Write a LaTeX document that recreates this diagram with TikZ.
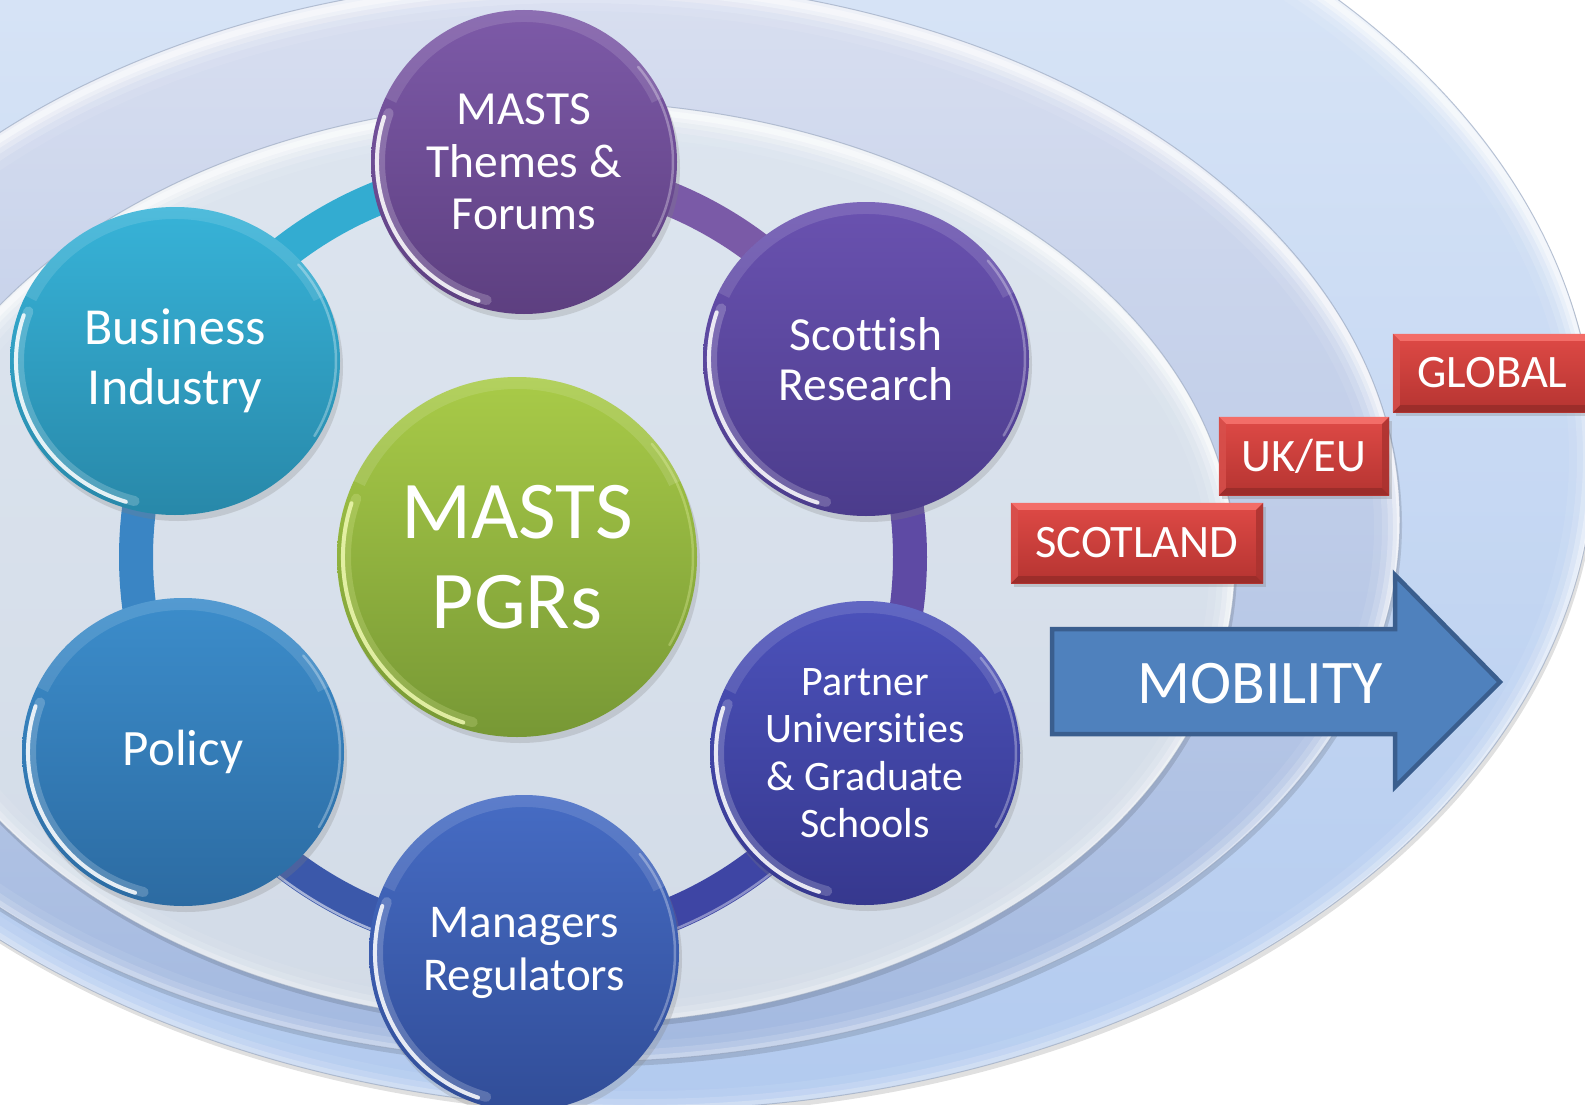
\documentclass[tikz,border=0pt]{standalone}
\usepackage{fontspec}
\setmainfont{Carlito}[Ligatures={NoCommon,NoContextual}]
\usetikzlibrary{shapes.geometric,shadows,calc}

\definecolor{eThreeTop}{HTML}{DDE8F7}
\definecolor{eThreeBot}{HTML}{B2CAEF}
\definecolor{eTwoTop}{HTML}{D9DFF0}
\definecolor{eTwoBot}{HTML}{A3B9E0}
\definecolor{eOneTop}{HTML}{DDE5EF}
\definecolor{eOneBot}{HTML}{D2DBE7}
\definecolor{edgegrey}{HTML}{8A9AB5}

\definecolor{ringA}{HTML}{33ACD1}
\definecolor{ringB}{HTML}{7A5AA7}
\definecolor{ringC}{HTML}{5E4AA4}
\definecolor{ringD}{HTML}{3E45A4}
\definecolor{ringE}{HTML}{3B58AA}
\definecolor{ringF}{HTML}{3A85C4}

\definecolor{themesT}{HTML}{7D5AA8}\definecolor{themesB}{HTML}{5D3F80}
\definecolor{scotT}{HTML}{6A52B0}\definecolor{scotB}{HTML}{4B3C8C}
\definecolor{partT}{HTML}{4C52BB}\definecolor{partB}{HTML}{36388E}
\definecolor{manT}{HTML}{466CC4}\definecolor{manB}{HTML}{314D98}
\definecolor{polT}{HTML}{3C8DCB}\definecolor{polB}{HTML}{2C6BA2}
\definecolor{busT}{HTML}{37B3D8}\definecolor{busB}{HTML}{2888A9}
\definecolor{grnT}{HTML}{A9CB48}\definecolor{grnB}{HTML}{779835}
\definecolor{grnRim}{HTML}{EEF8B0}

\definecolor{redT}{HTML}{DF4A46}\definecolor{redB}{HTML}{B53431}
\definecolor{redBevT}{HTML}{F36D68}\definecolor{redBevB}{HTML}{9C2D2A}
\definecolor{redBevL}{HTML}{D8504C}\definecolor{redBevR}{HTML}{A9322F}

\definecolor{arrowFill}{HTML}{4F81BD}
\definecolor{arrowEdge}{HTML}{3A5E8E}

% background oval layer: cx, cy, rx, ry, top colour, bottom colour
\newcommand{\bglayer}[6]{%
  \fill[black,opacity=.12] (#1+2,#2+5) ellipse [x radius=#3, y radius=#4];
  \begin{scope}
    \clip (#1,#2) ellipse [x radius=#3, y radius=#4];
    \shade[top color=#5, bottom color=#6] (#1-#3,#2-#4) rectangle (#1+#3,#2+#4);
    \foreach \w/\o in {3/.5,7/.35,12/.24,18/.15,26/.08}{
      \draw[white,opacity=\o,line width=2*\w] (#1,#2+7) ellipse [x radius=#3, y radius=#4];
    }
  \end{scope}
  \draw[edgegrey,opacity=.55,line width=1] (#1,#2) ellipse [x radius=#3, y radius=#4];
}

% rim highlights of a bubble: name, rx, ry, colour
\newcommand{\bubrim}[4]{%
  \pgfmathsetmacro\rxa{#2-6}\pgfmathsetmacro\rya{#3-6}%
  \pgfmathsetmacro\rxb{#2-4}\pgfmathsetmacro\ryb{#3-4}%
  \pgfmathsetmacro\rxc{#2-9}\pgfmathsetmacro\ryc{#3-9}%
  \pgfmathsetmacro\pax{\rxa*cos(108)}\pgfmathsetmacro\pay{\rya*sin(108)}%
  \pgfmathsetmacro\pdx{\rxc*cos(105)}\pgfmathsetmacro\pdy{\ryc*sin(105)}%
  \pgfmathsetmacro\pbx{\rxb*cos(-40)}\pgfmathsetmacro\pby{\ryb*sin(-40)}%
  \pgfmathsetmacro\pcx{\rxa*cos(205)}\pgfmathsetmacro\pcy{\rya*sin(205)}%
  \draw[#4,opacity=.2,line width=10,line cap=round]
    ([shift={(\pdx,\pdy)}]#1.center) arc[start angle=105,end angle=200,x radius=\rxc,y radius=\ryc];
  \draw[#4,opacity=.85,line width=4,line cap=round]
    ([shift={(\pax,\pay)}]#1.center) arc[start angle=108,end angle=198,x radius=\rxa,y radius=\rya];
  \draw[#4,opacity=.3,line width=2.5,line cap=round]
    ([shift={(\pbx,\pby)}]#1.center) arc[start angle=-40,end angle=30,x radius=\rxb,y radius=\ryb];
  \draw[white,opacity=.12,line width=12]
    ([shift={(\pcx,\pcy)}]#1.center) arc[start angle=205,end angle=335,x radius=\rxa,y radius=\rya];
}

% red label: name, cx, cy, width, height, text
\newcommand{\redbox}[6]{%
  \node[redlab,minimum width=#4,minimum height=#5] (#1) at (#2,#3) {#6};
  \fill[redBevT] (#1.north west) -- (#1.north east) -- ([shift={(-7,7)}]#1.north east) -- ([shift={(7,7)}]#1.north west) -- cycle;
  \fill[redBevB] (#1.south west) -- (#1.south east) -- ([shift={(-7,-7)}]#1.south east) -- ([shift={(7,-7)}]#1.south west) -- cycle;
  \fill[redBevL,opacity=.8] (#1.north west) -- ([shift={(7,7)}]#1.north west) -- ([shift={(7,-7)}]#1.south west) -- (#1.south west) -- cycle;
  \fill[redBevR,opacity=.8] (#1.north east) -- ([shift={(-7,7)}]#1.north east) -- ([shift={(-7,-7)}]#1.south east) -- (#1.south east) -- cycle;
}

\begin{document}
\begin{tikzpicture}[x=1pt,y=-1pt,
  bub/.style={ellipse,inner sep=0pt,text=white,align=center,
    drop shadow={shadow xshift=3pt,shadow yshift=-6pt,opacity=.25}},
  ringseg/.style={line width=34},
  redlab/.style={rectangle,inner sep=0pt,text=white,top color=redT,bottom color=redB,
    font=\fontsize{46.5pt}{50pt}\selectfont,
    drop shadow={shadow xshift=3pt,shadow yshift=-4pt,opacity=.3}},
  fthemes/.style={font=\fontsize{47.5pt}{52.6pt}\selectfont},
  fscot/.style={font=\fontsize{47.5pt}{50pt}\selectfont},
  fpart/.style={font=\fontsize{42pt}{47.5pt}\selectfont},
  fman/.style={font=\fontsize{47pt}{53pt}\selectfont},
  fpol/.style={font=\fontsize{51pt}{56pt}\selectfont},
  fbus/.style={font=\fontsize{52pt}{60pt}\selectfont},
  fgrn/.style={font=\fontsize{82pt}{90pt}\selectfont},
  fmob/.style={font=\fontsize{62pt}{66pt}\selectfont}
]
\useasboundingbox (0,0) rectangle (1585,1105);
\fill[white] (0,0) rectangle (1585,1105);

% nested ovals: GLOBAL, UK/EU, SCOTLAND
\bglayer{640}{450}{955}{660}{eThreeTop}{eThreeBot}
\bglayer{576}{520}{824}{542}{eTwoTop}{eTwoBot}
\bglayer{560}{563}{675}{462}{eOneTop}{eOneBot}

% ring joining the bubbles
\coordinate (hub) at (523,557);
\foreach \a/\b/\c in {210/270/ringA,270/330/ringB,330/390/ringC,30/90/ringD,90/150/ringE,150/210/ringF}{
  \draw[ringseg,draw=\c] (hub) ++(\a:387) arc[start angle=\a,end angle=\b,radius=387];
}
\draw[white,opacity=.55,line width=2.5] (hub) ++(95:402) arc[start angle=95,end angle=140,radius=402];
\draw[white,opacity=.4,line width=2.5] (hub) ++(40:402) arc[start angle=40,end angle=85,radius=402];

% bubbles
\node[bub,fthemes,minimum width=306,minimum height=304,top color=themesT,bottom color=themesB] (themes) at (524,162) {MASTS\\Themes \&\\Forums};
\bubrim{themes}{153}{152}{white}
\node[bub,fscot,minimum width=326,minimum height=314,top color=scotT,bottom color=scotB] (scottish) at (866,359) {Scottish\\Research};
\bubrim{scottish}{163}{157}{white}
\node[bub,fpart,minimum width=310,minimum height=304,top color=partT,bottom color=partB] (partner) at (865,753) {Partner\\Universities\\\& Graduate\\Schools};
\bubrim{partner}{155}{152}{white}
\node[bub,fman,minimum width=310,minimum height=316,top color=manT,bottom color=manB] (managers) at (524,953) {Managers\\Regulators};
\bubrim{managers}{155}{158}{white}
\node[bub,fpol,minimum width=322,minimum height=308,top color=polT,bottom color=polB] (policy) at (183,752) {Policy};
\bubrim{policy}{161}{154}{white}
\node[bub,fbus,minimum width=330,minimum height=308,top color=busT,bottom color=busB] (business) at (175,361) {Business\\Industry};
\bubrim{business}{165}{154}{white}
\node[bub,fgrn,minimum width=360,minimum height=360,top color=grnT,bottom color=grnB] (pgrs) at (517,557) {MASTS\\PGRs};
\bubrim{pgrs}{180}{180}{grnRim}

% level labels
\redbox{scotland}{1137}{543}{252}{80}{SCOTLAND}
\redbox{ukeu}{1304}{456}{170}{78}{UK/EU}
\redbox{global}{1492.5}{373}{199}{78}{GLOBAL}

% mobility arrow
\draw[fill=arrowFill,draw=arrowEdge,line width=4.5,line join=miter]
  (1052,629) -- (1395,629) -- (1395,575) -- (1500,682) -- (1395,787) -- (1395,734) -- (1052,734) -- cycle;
\node[fmob,text=white,inner sep=0pt] (mobility) at (1260,684) {MOBILITY};
\end{tikzpicture}
\end{document}
